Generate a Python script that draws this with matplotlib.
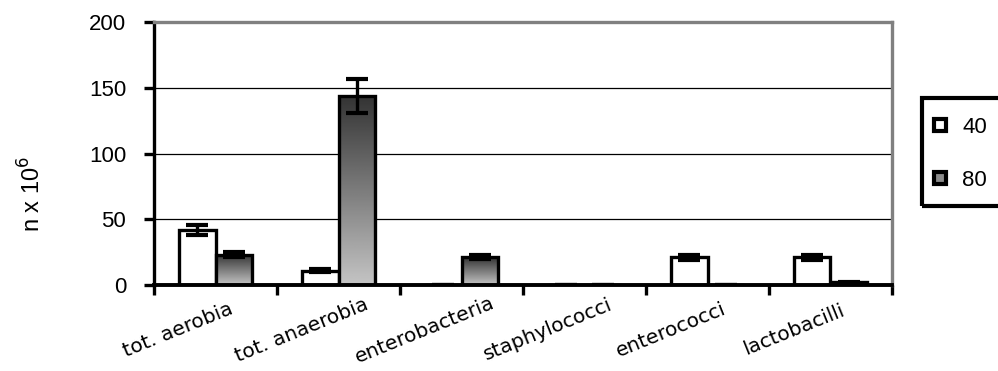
import matplotlib
matplotlib.use("Agg")
import matplotlib.pyplot as plt
import matplotlib.transforms as mtransforms
import numpy as np
from matplotlib.lines import Line2D
from matplotlib.patches import Rectangle

plt.rcParams['font.family'] = ['Liberation Sans', 'DejaVu Sans']

categories = ["tot. aerobia", "tot. anaerobia", "enterobacteria", "staphylococci", "enterococci", "lactobacilli"]
series_names = ["40", "80"]
values_40 = [42, 11, 0.3, 0.3, 21, 21]
errors_40 = [4, 1, 0, 0, 2, 2]
values_80 = [23, 144, 21, 0.3, 0.3, 2]
errors_80 = [2, 13, 1.5, 0, 0, 0.5]
yticks = [0, 50, 100, 150, 200]

W, H = 998, 371
fig = plt.figure(figsize=(W / 100, H / 100), dpi=100)
ax = fig.add_axes([154 / W, 1 - 285 / H, (892 - 154) / W, (285 - 22) / H])

x = np.arange(len(categories))
bw = 0.3
lw_edge = 2.4

b40 = ax.bar(x - bw / 2, values_40, bw, color="white", edgecolor="black", linewidth=lw_edge, zorder=3)
b80 = ax.bar(x + bw / 2, values_80, bw, color="none", edgecolor="black", linewidth=lw_edge, zorder=4)

# gradient fill for series 80 (dark top, light bottom)
grad = np.linspace(0.77, 0.2, 256).reshape(-1, 1)
for rect in b80:
    h = rect.get_height()
    if h <= 0:
        continue
    x0 = rect.get_x()
    im = ax.imshow(grad, cmap="gray", vmin=0, vmax=1,
                   extent=[x0, x0 + rect.get_width(), 0, h], aspect="auto", zorder=3.5,
                   origin="lower")
    im.set_clip_path(rect)

ax.set_xlim(-0.5, len(categories) - 0.5)
ax.set_ylim(0, 200)

ekw = dict(fmt="none", ecolor="black", elinewidth=2.4, capsize=8, capthick=3.0, zorder=6)
ax.errorbar(x - bw / 2, values_40, yerr=errors_40, **ekw)
ax.errorbar(x + bw / 2, values_80, yerr=errors_80, **ekw)

# grid
for yv in yticks[1:-1]:
    ax.axhline(yv, color="black", linewidth=0.9, zorder=1)

ax.spines["top"].set_color("#808080")
ax.spines["top"].set_linewidth(2.4)
ax.spines["right"].set_color("#808080")
ax.spines["right"].set_linewidth(2.4)
ax.spines["left"].set_linewidth(2.4)
ax.spines["bottom"].set_linewidth(2.8)
ax.spines["bottom"].set_zorder(7)

ax.set_yticks(yticks)
ax.set_yticklabels([str(v) for v in yticks], fontsize=16)
ax.tick_params(axis="y", direction="out", length=7, width=2.4, pad=13)

ax.set_xticks(np.arange(-0.5, len(categories), 1.0))
ax.set_xticklabels([])
ax.tick_params(axis="x", which="major", direction="out", length=7, width=2.4)

# category labels (rotated, shifted like the original)
trans = mtransforms.blended_transform_factory(ax.transData, ax.transAxes)
off = mtransforms.ScaledTranslation(-37 / 100, -45 / 100, fig.dpi_scale_trans)
for xi, lab in zip(x, categories):
    ax.text(xi, 0, lab, transform=trans + off, rotation=22, ha="center", va="center",
            fontsize=14.5, family=["DejaVu Sans"])

fig.text(32 / W, 1 - 194 / H, "n x 10$^{6}$", rotation=90, fontsize=17, ha="center", va="center")

# legend
handles = [
    Line2D([], [], marker="s", linestyle="none", markersize=8, markerfacecolor="white",
           markeredgecolor="black", markeredgewidth=3),
    Line2D([], [], marker="s", linestyle="none", markersize=8, markerfacecolor="#8c8c8c",
           markeredgecolor="black", markeredgewidth=3),
]
leg = fig.legend(handles, series_names, loc="center left", bbox_to_anchor=(929 / W, 1 - 154 / H),
                 frameon=False, fontsize=16, handletextpad=0.5, labelspacing=1.45, handlelength=1.0,
                 borderpad=0, borderaxespad=0)
fig.patches.append(Rectangle((922 / W, 1 - 206 / H), 100 / W, 108 / H, transform=fig.transFigure,
                             fill=False, edgecolor="black", linewidth=3, clip_on=False))

fig.savefig("out.png", dpi=100)
